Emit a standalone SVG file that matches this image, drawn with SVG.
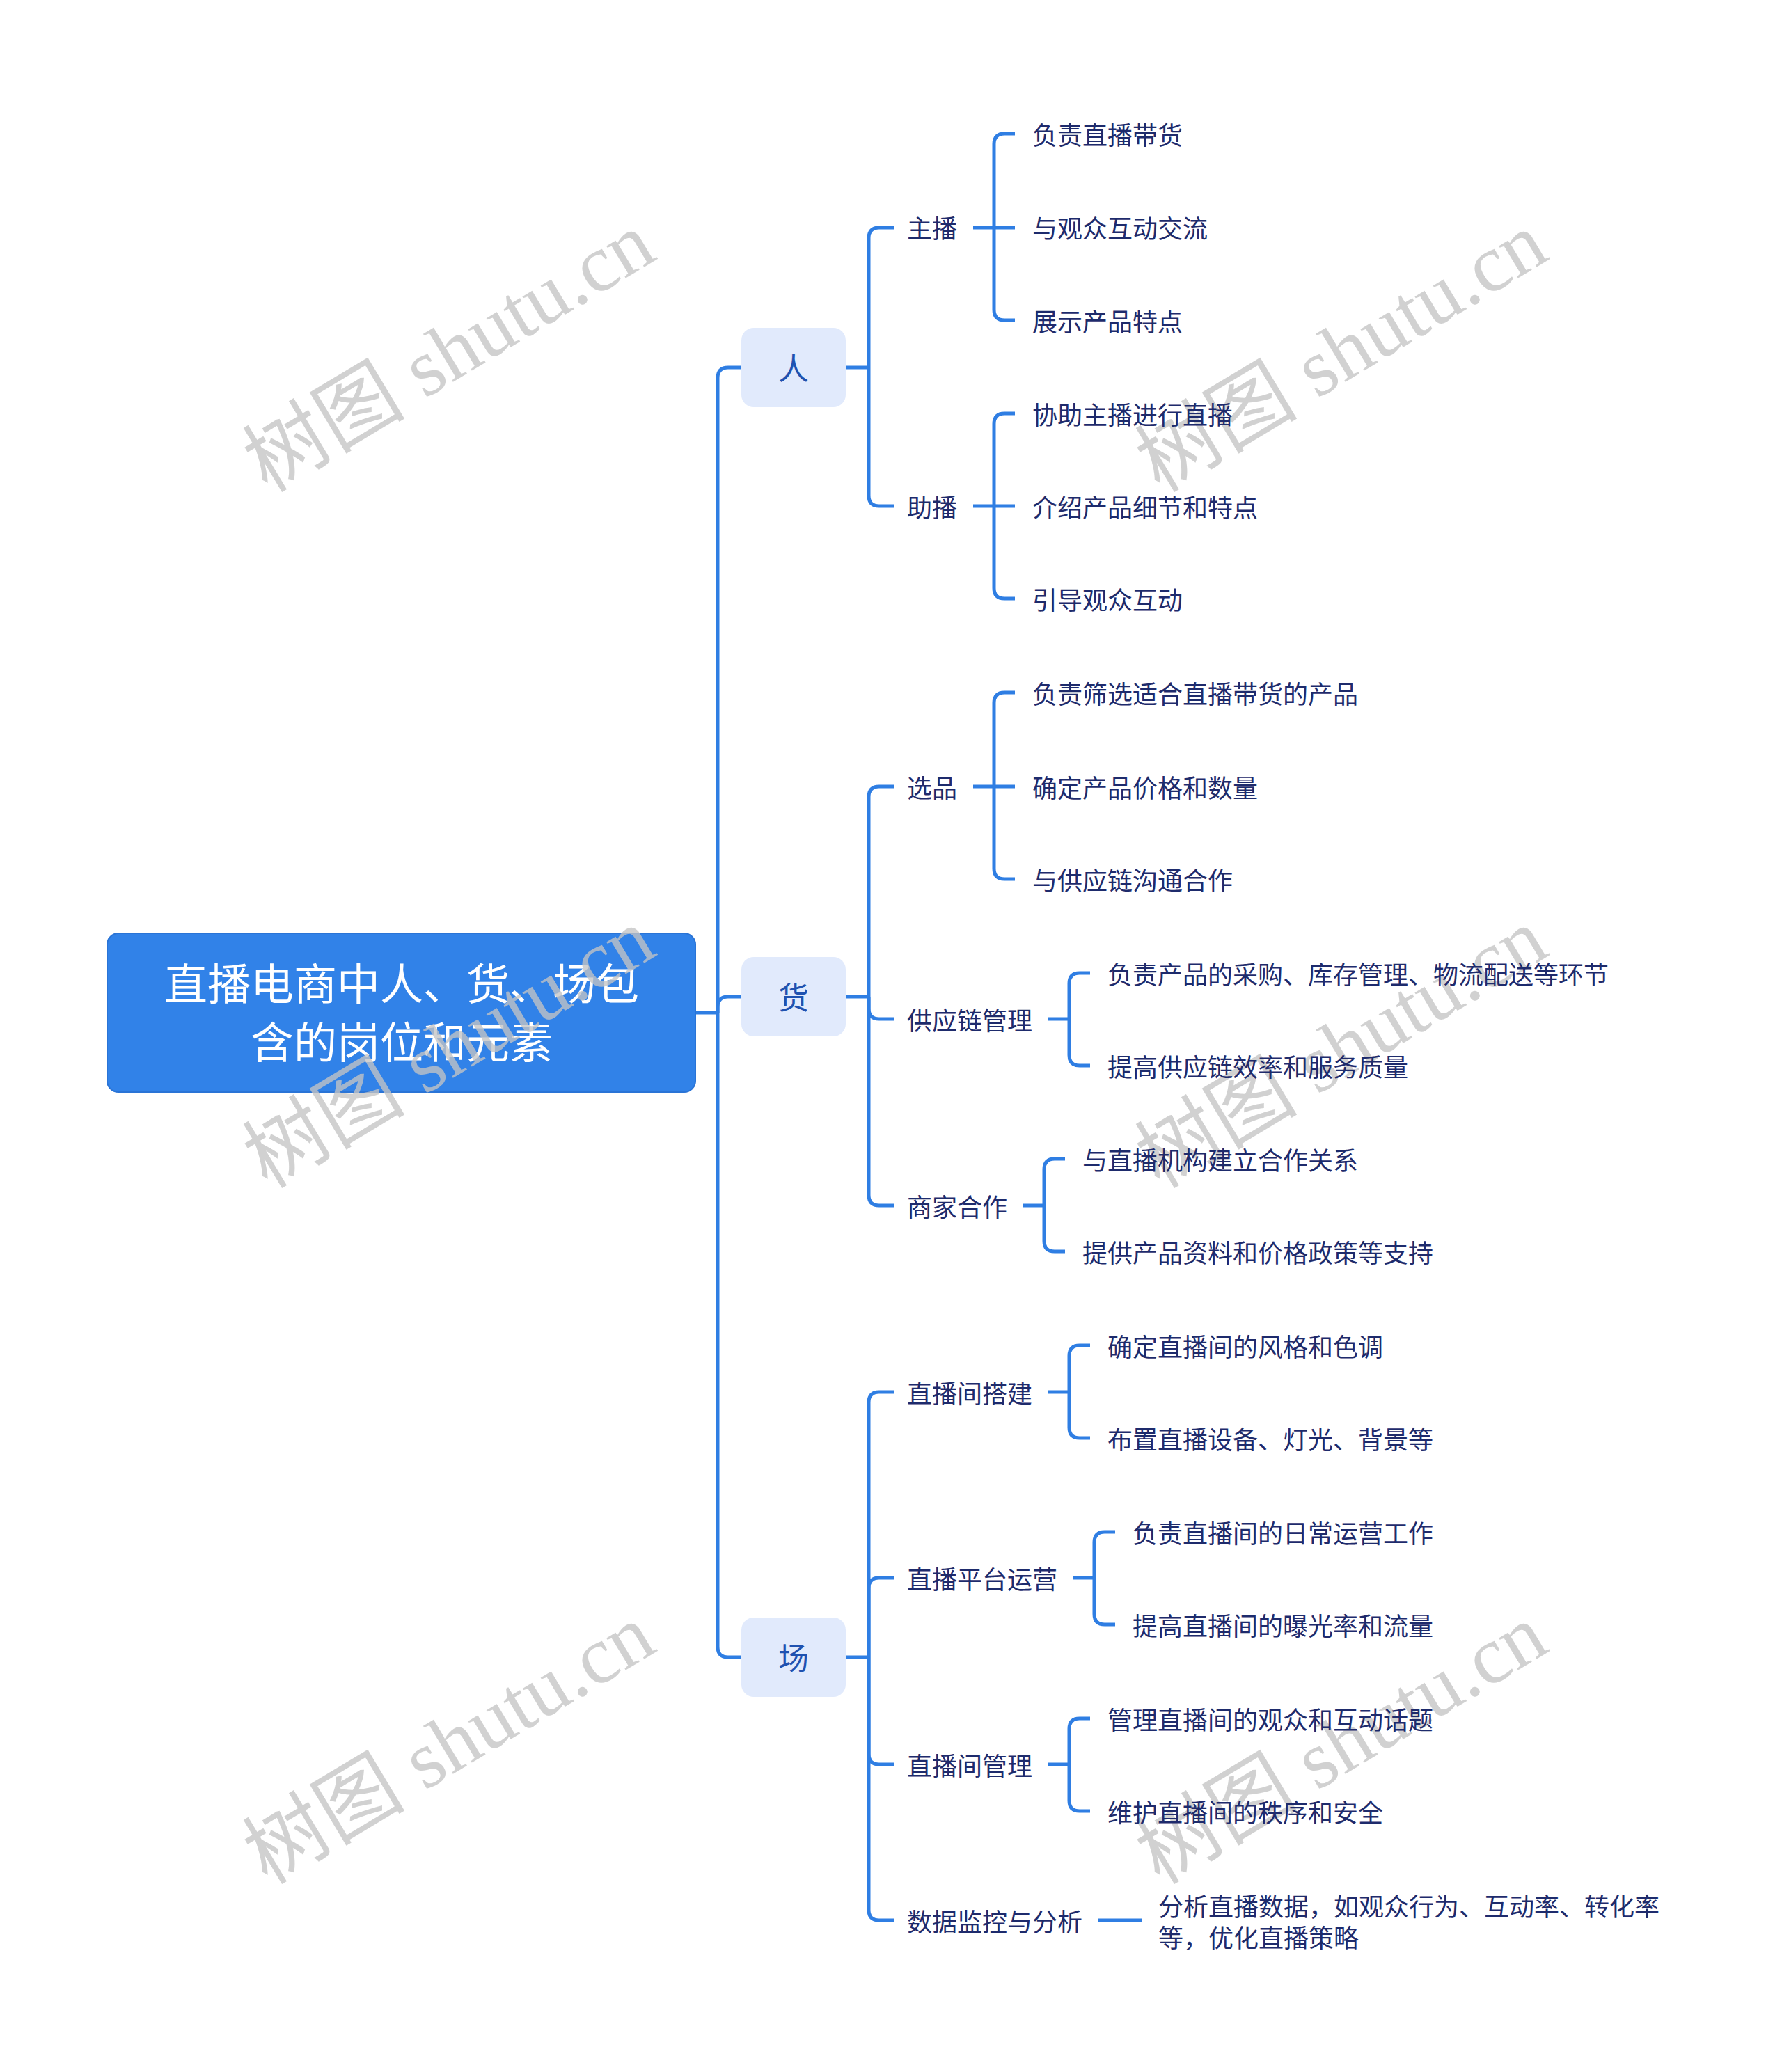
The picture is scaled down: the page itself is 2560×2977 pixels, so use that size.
<svg xmlns="http://www.w3.org/2000/svg" width="2560" height="2977" viewBox="0 0 2560 2977">
<style>
.t{font-family:"Noto Sans CJK SC","Noto Sans",sans-serif;font-size:36px;fill:#1e2b6c;dominant-baseline:central}
.l1{font-family:"Noto Sans CJK SC","Noto Sans",sans-serif;font-size:44px;fill:#1f52b0;dominant-baseline:central;text-anchor:middle}
.rt{font-family:"Noto Sans CJK SC","Noto Sans",sans-serif;font-size:62px;fill:#ffffff;dominant-baseline:central;text-anchor:middle}
.c{fill:none;stroke:#2f7ee3;stroke-width:5;stroke-linecap:butt}
.b1{fill:#e1eafc}
.wm{font-family:"Liberation Serif","Noto Sans CJK SC",serif;font-size:117px;fill:#c4c4c4;fill-opacity:0.78}
</style>
<rect width="2560" height="2977" fill="#ffffff"/>
<g id="connectors">
<path class="c" d="M999,1455 H1031"/>
<path class="c" d="M1031,1455 V543 Q1031,528 1046,528 H1065"/>
<path class="c" d="M1031,1455 V1447 Q1031,1432 1046,1432 H1065"/>
<path class="c" d="M1031,1455 V2366 Q1031,2381 1046,2381 H1065"/>
<path class="c" d="M1215,528 H1248"/>
<path class="c" d="M1248,528 V342 Q1248,327 1263,327 H1284"/>
<path class="c" d="M1248,528 V712 Q1248,727 1263,727 H1284"/>
<path class="c" d="M1215,1432 H1248"/>
<path class="c" d="M1248,1432 V1145 Q1248,1130 1263,1130 H1284"/>
<path class="c" d="M1248,1432 V1449 Q1248,1464 1263,1464 H1284"/>
<path class="c" d="M1248,1432 V1717 Q1248,1732 1263,1732 H1284"/>
<path class="c" d="M1215,2381 H1248"/>
<path class="c" d="M1248,2381 V2015 Q1248,2000 1263,2000 H1284"/>
<path class="c" d="M1248,2381 V2282 Q1248,2267 1263,2267 H1284"/>
<path class="c" d="M1248,2381 V2520 Q1248,2535 1263,2535 H1284"/>
<path class="c" d="M1248,2381 V2744 Q1248,2759 1263,2759 H1284"/>
<path class="c" d="M1398,327 H1458"/>
<path class="c" d="M1428,327 V207 Q1428,192 1443,192 H1458"/>
<path class="c" d="M1428,327 V445 Q1428,460 1443,460 H1458"/>
<path class="c" d="M1398,727 H1458"/>
<path class="c" d="M1428,727 V609 Q1428,594 1443,594 H1458"/>
<path class="c" d="M1428,727 V845 Q1428,860 1443,860 H1458"/>
<path class="c" d="M1398,1130 H1458"/>
<path class="c" d="M1428,1130 V1010 Q1428,995 1443,995 H1458"/>
<path class="c" d="M1428,1130 V1248 Q1428,1263 1443,1263 H1458"/>
<path class="c" d="M1506,1464 H1536"/>
<path class="c" d="M1536,1464 V1413 Q1536,1398 1551,1398 H1566"/>
<path class="c" d="M1536,1464 V1516 Q1536,1531 1551,1531 H1566"/>
<path class="c" d="M1470,1732 H1500"/>
<path class="c" d="M1500,1732 V1680 Q1500,1665 1515,1665 H1530"/>
<path class="c" d="M1500,1732 V1783 Q1500,1798 1515,1798 H1530"/>
<path class="c" d="M1506,2000 H1536"/>
<path class="c" d="M1536,2000 V1948 Q1536,1933 1551,1933 H1566"/>
<path class="c" d="M1536,2000 V2051 Q1536,2066 1551,2066 H1566"/>
<path class="c" d="M1542,2267 H1572"/>
<path class="c" d="M1572,2267 V2216 Q1572,2201 1587,2201 H1602"/>
<path class="c" d="M1572,2267 V2319 Q1572,2334 1587,2334 H1602"/>
<path class="c" d="M1506,2535 H1536"/>
<path class="c" d="M1536,2535 V2484 Q1536,2469 1551,2469 H1566"/>
<path class="c" d="M1536,2535 V2587 Q1536,2602 1551,2602 H1566"/>
<path class="c" d="M1578,2759 H1641"/>
</g>
<g id="root">
<rect x="154" y="1341" width="845" height="228" rx="16" fill="#3182e8" stroke="#2a74d6" stroke-width="2"/>
<text class="rt" x="577" y="1410">直播电商中人、货、场包</text>
<text class="rt" x="577" y="1494">含的岗位和元素</text>
</g>
<g id="n-ren"><rect class="b1" x="1065" y="471" width="150" height="114" rx="18"/><text class="l1" x="1140" y="527">人</text></g>
<g id="n-huo"><rect class="b1" x="1065" y="1375" width="150" height="114" rx="18"/><text class="l1" x="1140" y="1431">货</text></g>
<g id="n-chang"><rect class="b1" x="1065" y="2324" width="150" height="114" rx="18"/><text class="l1" x="1140" y="2380">场</text></g>
<g id="watermarks">
<text class="wm" transform="translate(384,709) rotate(-31)">树图 shutu.cn</text>
<text class="wm" transform="translate(1666,709) rotate(-31)">树图 shutu.cn</text>
<text class="wm" transform="translate(384,1709) rotate(-31)">树图 shutu.cn</text>
<text class="wm" transform="translate(1666,1709) rotate(-31)">树图 shutu.cn</text>
<text class="wm" transform="translate(384,2709) rotate(-31)">树图 shutu.cn</text>
<text class="wm" transform="translate(1666,2709) rotate(-31)">树图 shutu.cn</text>
</g>
<g id="n-zhubo"><text class="t" x="1303" y="326">主播</text></g>
<g id="n-zhubo-1"><text class="t" x="1483" y="192">负责直播带货</text></g>
<g id="n-zhubo-2"><text class="t" x="1483" y="326">与观众互动交流</text></g>
<g id="n-zhubo-3"><text class="t" x="1483" y="460">展示产品特点</text></g>
<g id="n-zhu"><text class="t" x="1303" y="727">助播</text></g>
<g id="n-zhu-1"><text class="t" x="1483" y="594">协助主播进行直播</text></g>
<g id="n-zhu-2"><text class="t" x="1483" y="727">介绍产品细节和特点</text></g>
<g id="n-zhu-3"><text class="t" x="1483" y="860">引导观众互动</text></g>
<g id="n-xuanpin"><text class="t" x="1303" y="1130">选品</text></g>
<g id="n-xuanpin-1"><text class="t" x="1483" y="995">负责筛选适合直播带货的产品</text></g>
<g id="n-xuanpin-2"><text class="t" x="1483" y="1130">确定产品价格和数量</text></g>
<g id="n-xuanpin-3"><text class="t" x="1483" y="1263">与供应链沟通合作</text></g>
<g id="n-gyl"><text class="t" x="1303" y="1464">供应链管理</text></g>
<g id="n-gyl-1"><text class="t" x="1591" y="1398">负责产品的采购、库存管理、物流配送等环节</text></g>
<g id="n-gyl-2"><text class="t" x="1591" y="1531">提高供应链效率和服务质量</text></g>
<g id="n-sj"><text class="t" x="1303" y="1732">商家合作</text></g>
<g id="n-sj-1"><text class="t" x="1555" y="1665">与直播机构建立合作关系</text></g>
<g id="n-sj-2"><text class="t" x="1555" y="1798">提供产品资料和价格政策等支持</text></g>
<g id="n-dj"><text class="t" x="1303" y="2000">直播间搭建</text></g>
<g id="n-dj-1"><text class="t" x="1591" y="1933">确定直播间的风格和色调</text></g>
<g id="n-dj-2"><text class="t" x="1591" y="2066">布置直播设备、灯光、背景等</text></g>
<g id="n-pt"><text class="t" x="1303" y="2267">直播平台运营</text></g>
<g id="n-pt-1"><text class="t" x="1627" y="2201">负责直播间的日常运营工作</text></g>
<g id="n-pt-2"><text class="t" x="1627" y="2334">提高直播间的曝光率和流量</text></g>
<g id="n-gl"><text class="t" x="1303" y="2535">直播间管理</text></g>
<g id="n-gl-1"><text class="t" x="1591" y="2469">管理直播间的观众和互动话题</text></g>
<g id="n-gl-2"><text class="t" x="1591" y="2602">维护直播间的秩序和安全</text></g>
<g id="n-sjjk"><text class="t" x="1303" y="2759">数据监控与分析</text></g>
<g id="n-sjjk-1"><text class="t" x="1664" y="2737">分析直播数据，如观众行为、互动率、转化率</text><text class="t" x="1664" y="2782">等，优化直播策略</text></g>
</svg>
